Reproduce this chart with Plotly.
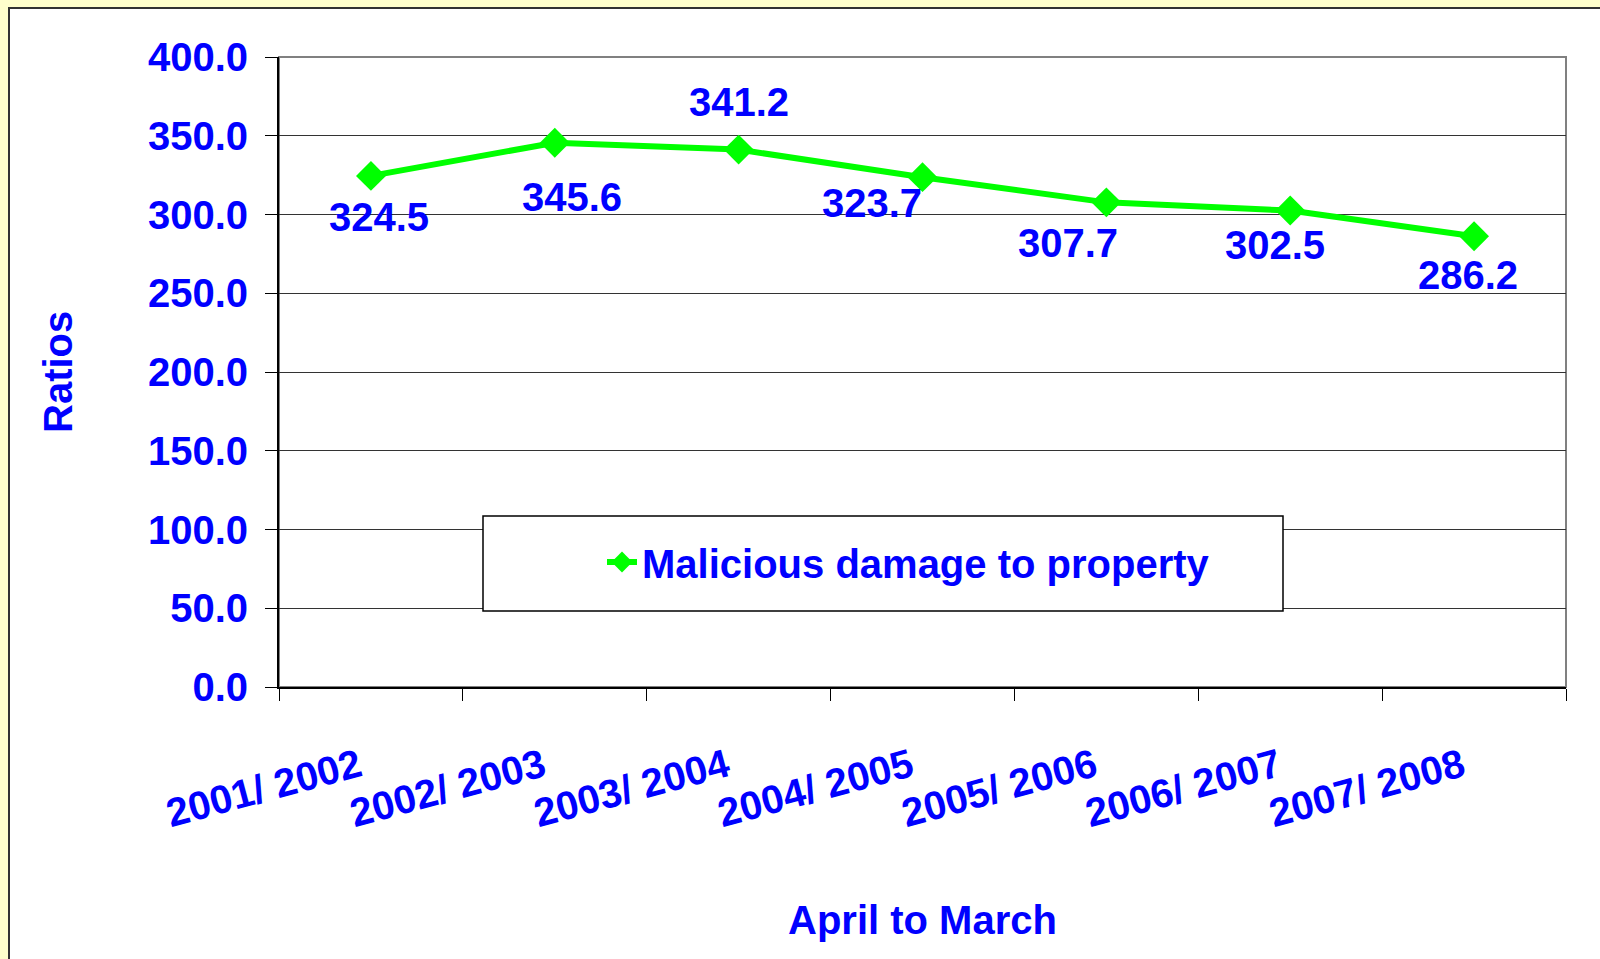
import plotly.graph_objects as go

categories = ["2001/ 2002", "2002/ 2003", "2003/ 2004", "2004/ 2005",
              "2005/ 2006", "2006/ 2007", "2007/ 2008"]
values = [324.5, 345.6, 341.2, 323.7, 307.7, 302.5, 286.2]
series_name = "Malicious damage to property"
y_ticks = [0, 50, 100, 150, 200, 250, 300, 350, 400]

# label offsets (pixels) relative to each point
label_dx = [8, 17, 0, -51, -38, -15, -6]
label_dy = [-41, -54, 48, -26, -41, -34, -39]

W, H = 1600, 959
L, R, T, B = 279, 1566, 57, 687
pw, ph = R - L, B - T

def px(x):
    return (x - L) / pw

def py(y):
    return (B - y) / ph

BLUE = "#0000FF"
GREEN = "#00FF00"
FONT = "Liberation Sans, Arial, sans-serif"

fig = go.Figure()
fig.add_trace(go.Scatter(
    x=categories, y=values, mode="lines+markers", name=series_name,
    line=dict(color=GREEN, width=6),
    marker=dict(symbol="diamond", size=23, color=GREEN),
))

annotations = []
for c, v, dx, dy in zip(categories, values, label_dx, label_dy):
    annotations.append(dict(
        x=c, y=v, xref="x", yref="y", text=f"{v:.1f}", showarrow=False,
        xshift=dx, yshift=dy, xanchor="center", yanchor="middle",
        font=dict(family=FONT, size=40, color=BLUE, weight="bold"),
    ))
annotations.append(dict(
    x=px(58), y=py(372), xref="paper", yref="paper", text="Ratios",
    showarrow=False, textangle=-90, xanchor="center", yanchor="middle",
    font=dict(family=FONT, size=40, color=BLUE, weight="bold"),
))
annotations.append(dict(
    x=px(922), y=py(920), xref="paper", yref="paper", text="April to March",
    showarrow=False, xanchor="center", yanchor="middle",
    font=dict(family=FONT, size=40, color=BLUE, weight="bold"),
))

shapes = [
    dict(type="rect", xref="paper", yref="paper", layer="below",
         x0=px(9), x1=px(1620), y0=py(980), y1=py(8),
         fillcolor="white", line=dict(color="#333333", width=2)),
    dict(type="rect", xref="paper", yref="paper", layer="below",
         x0=0, x1=1, y0=0, y1=1,
         line=dict(color="#808080", width=2)),
    dict(type="rect", xref="paper", yref="paper", layer="above",
         x0=px(483), x1=px(1283), y0=py(611), y1=py(516),
         fillcolor="white", line=dict(color="black", width=1.5)),
]

fig.update_layout(
    width=W, height=H,
    margin=dict(l=L, r=W - R, t=T, b=H - B, autoexpand=False),
    paper_bgcolor="#FFFFCC",
    plot_bgcolor="white",
    showlegend=True,
    legend=dict(
        x=px(602), y=py(562), xanchor="left", yanchor="middle",
        bgcolor="rgba(0,0,0,0)", borderwidth=0,
        font=dict(family=FONT, size=40, color=BLUE, weight="bold"),
    ),
    annotations=annotations,
    shapes=shapes,
    xaxis=dict(
        type="category", range=[-0.5, len(categories) - 0.5],
        showgrid=False, showline=True, linecolor="black", linewidth=2,
        ticks="outside", tickson="boundaries", ticklen=12, tickcolor="black",
        tickangle=-15, ticklabelstandoff=39, ticklabelshift=-12,
        tickfont=dict(family=FONT, size=40, color=BLUE, weight="bold"),
        fixedrange=True,
    ),
    yaxis=dict(
        range=[0, 400], tickvals=y_ticks, tickformat=".1f",
        showgrid=True, gridcolor="#333333", gridwidth=1,
        showline=True, linecolor="black", linewidth=2,
        ticks="outside", ticklen=12, tickcolor="black",
        ticklabelstandoff=9, zeroline=False,
        tickfont=dict(family=FONT, size=40, color=BLUE, weight="bold"),
        fixedrange=True,
    ),
)

fig.write_html(
    "out.html",
    config={"displayModeBar": False},
    post_script="document.body.style.margin='0';document.body.style.background='#FFFFCC';",
)
